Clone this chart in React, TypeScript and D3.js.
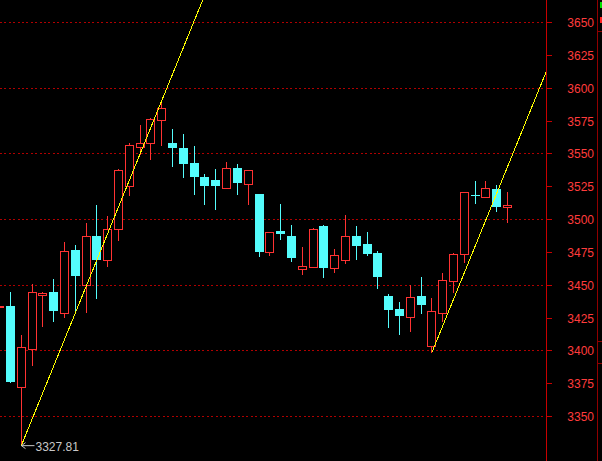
import React from 'react';
import * as d3 from 'd3';

// daily candles, index 0 is cut by the left edge
const opens = [
  3433.6, 3433.8, 3372.2, 3401.2, 3442.4, 3444.5, 3429.0, 3476.6, 3450.4, 3487.3,
  3469.2, 3492.4, 3525.6, 3555.4, 3558.5, 3576.0, 3558.2, 3554.4, 3543.0, 3532.3,
  3530.0, 3524.1, 3539.2, 3527.2, 3519.3, 3475.3, 3491.1, 3487.3, 3462.3, 3463.8,
  3494.9, 3463.1, 3469.2, 3487.3, 3481.1, 3474.3, 3441.5, 3431.5, 3425.6, 3441.5,
  3403.5, 3428.7, 3453.1, 3473.7, 3518.5, 3517.3, 3523.1, 3509.6,
];
const highs = [
  3434.5, 3444.5, 3412.4, 3451.1, 3444.6, 3454.4, 3482.7, 3480.9, 3497.2, 3510.9,
  3502.5, 3538.4, 3558.2, 3572.0, 3577.0, 3590.5, 3568.9, 3565.1, 3555.9, 3534.6,
  3538.4, 3543.7, 3542.2, 3537.6, 3519.5, 3490.5, 3511.7, 3495.6, 3478.9, 3493.4,
  3495.6, 3477.3, 3503.3, 3494.9, 3490.3, 3475.8, 3443.0, 3436.9, 3450.1, 3456.2,
  3439.9, 3459.0, 3474.3, 3521.0, 3529.2, 3529.2, 3526.2, 3520.8,
];
const lows = [
  3433.0, 3375.5, 3327.81, 3388.2, 3418.0, 3421.8, 3424.9, 3429.5, 3428.9, 3439.4,
  3463.8, 3483.4, 3518.0, 3548.9, 3545.3, 3556.2, 3540.2, 3531.8, 3518.8, 3511.1,
  3507.3, 3524.0, 3518.8, 3511.1, 3471.5, 3472.0, 3484.2, 3467.6, 3457.5, 3463.5,
  3455.4, 3459.2, 3466.1, 3469.2, 3472.2, 3447.0, 3417.3, 3411.9, 3414.2, 3427.9,
  3398.7, 3421.8, 3444.0, 3466.9, 3511.9, 3517.0, 3505.8, 3497.4,
];
const closes = [
  3434.2, 3376.0, 3403.1, 3445.0, 3444.3, 3430.2, 3475.8, 3456.9, 3487.8, 3469.2,
  3492.4, 3537.6, 3556.5, 3558.0, 3576.6, 3585.0, 3554.7, 3542.4, 3532.5, 3525.6,
  3525.6, 3538.9, 3527.9, 3537.4, 3475.3, 3490.3, 3489.0, 3470.7, 3464.4, 3492.6,
  3463.1, 3472.7, 3487.3, 3479.8, 3473.7, 3456.2, 3431.0, 3426.4, 3440.7, 3434.8,
  3430.0, 3453.7, 3473.5, 3520.8, 3518.2, 3523.7, 3509.6, 3510.9,
];

const priceTicks = [3350, 3375, 3400, 3425, 3450, 3475, 3500, 3525, 3550, 3575, 3600, 3625, 3650];
const gridTicks = [3350, 3400, 3450, 3500, 3550, 3600, 3650];

// trend line: from the low at index 2 through the high at index 15, and a parallel from index 40
const trendFrom = 2;
const trendThrough = 15;
const channelFrom = 40;

const W = 602;
const H = 461;
const axisX = 546;

const UP = '#ff3232';
const DOWN = '#54fcfc';

export default function App() {
  const x = d3.scaleLinear().domain([1, 47]).range([10.5, 507.5]);
  const y = d3.scaleLinear().domain([3650, 3350]).range([22.5, 416.5]);

  const col = (i: number) => Math.round(x(i) - 0.5);
  const py = (v: number) => Math.round(y(v));

  const slope = (highs[trendThrough] - lows[trendFrom]) / (trendThrough - trendFrom);
  const t1End = trendFrom + (y.invert(0) - lows[trendFrom]) / slope;
  const t2End = x.invert(axisX);
  const line = d3
    .line<[number, number]>()
    .x((d) => x(d[0]))
    .y((d) => y(d[1]));
  const trend1 = line([
    [trendFrom, lows[trendFrom]],
    [t1End, lows[trendFrom] + (t1End - trendFrom) * slope],
  ]);
  const trend2 = line([
    [channelFrom, lows[channelFrom]],
    [t2End, lows[channelFrom] + (t2End - channelFrom) * slope],
  ]);

  const lowX = col(trendFrom) + 0.5;
  const lowY = y(lows[trendFrom]);

  return (
    <>
      <style>{`body{margin:0;background:#000}`}</style>
      <svg width={W} height={H} style={{ display: 'block', background: '#000' }}>
        {gridTicks.map((t) => (
          <line
            key={'g' + t}
            x1={0}
            x2={axisX - 2}
            y1={Math.floor(y(t)) + 0.5}
            y2={Math.floor(y(t)) + 0.5}
            stroke="#b00000"
            strokeDasharray="2 2.4"
            shapeRendering="crispEdges"
          />
        ))}

        {opens.map((o, i) => {
          const c = closes[i];
          const cx = col(i);
          const wx = cx + 0.5;
          const top = py(Math.max(o, c));
          const bot = py(Math.min(o, c));
          const hy = py(highs[i]);
          const ly = py(lows[i]);
          if (c >= o) {
            const h = Math.max(bot - top, 1);
            return (
              <g key={i} stroke={UP} shapeRendering="crispEdges">
                {hy < top && <line x1={wx} x2={wx} y1={hy} y2={top} />}
                {ly > top + h && <line x1={wx} x2={wx} y1={top + h} y2={ly} />}
                <rect x={cx - 4 + 0.5} y={top + 0.5} width={8} height={h} fill="#000" />
              </g>
            );
          }
          return (
            <g key={i} shapeRendering="crispEdges">
              <line x1={wx} x2={wx} y1={hy} y2={ly} stroke={DOWN} />
              <rect x={cx - 4} y={top} width={9} height={Math.max(bot - top, 1)} fill={DOWN} />
            </g>
          );
        })}

        <path d={trend1 || ''} stroke="#ffff00" fill="none" shapeRendering="crispEdges" />
        <path d={trend2 || ''} stroke="#ffff00" fill="none" shapeRendering="crispEdges" />

        <g stroke="#c8c8c8" fill="none">
          <line x1={lowX} x2={lowX + 13} y1={lowY} y2={lowY} />
          <path d={`M${lowX + 4},${lowY - 3}L${lowX},${lowY}L${lowX + 4},${lowY + 3}`} />
        </g>
        <text
          x={lowX + 14}
          y={lowY + 5}
          fill="#c8c8c8"
          fontSize={12}
          fontFamily="Arial, 'Liberation Sans', sans-serif"
        >
          {lows[trendFrom].toFixed(2)}
        </text>

        <line x1={axisX + 0.5} x2={axisX + 0.5} y1={0} y2={H} stroke="#c80000" shapeRendering="crispEdges" />
        {priceTicks.map((t) => (
          <g key={'t' + t}>
            <line
              x1={axisX}
              x2={axisX + 6}
              y1={Math.floor(y(t)) + 0.5}
              y2={Math.floor(y(t)) + 0.5}
              stroke="#c80000"
              shapeRendering="crispEdges"
            />
            <text
              x={594}
              y={y(t) + 4.5}
              textAnchor="end"
              fill="#ff3c3c"
              fontSize={12}
              fontFamily="Arial, 'Liberation Sans', sans-serif"
            >
              {t}
            </text>
          </g>
        ))}

        {/* clipped neighbour panel on the right edge */}
        <line x1={597.5} x2={597.5} y1={0} y2={H} stroke="#900000" shapeRendering="crispEdges" />
        <line x1={597} x2={W} y1={31.5} y2={31.5} stroke="#900000" shapeRendering="crispEdges" />
        <line x1={597} x2={W} y1={341.5} y2={341.5} stroke="#900000" shapeRendering="crispEdges" />
        <line x1={597} x2={W} y1={363.5} y2={363.5} stroke="#900000" shapeRendering="crispEdges" />
        <rect x={600} y={2} width={2} height={6} fill="#00e000" />
        <rect x={600} y={17} width={2} height={6} fill="#ff2020" />
      </svg>
    </>
  );
}
